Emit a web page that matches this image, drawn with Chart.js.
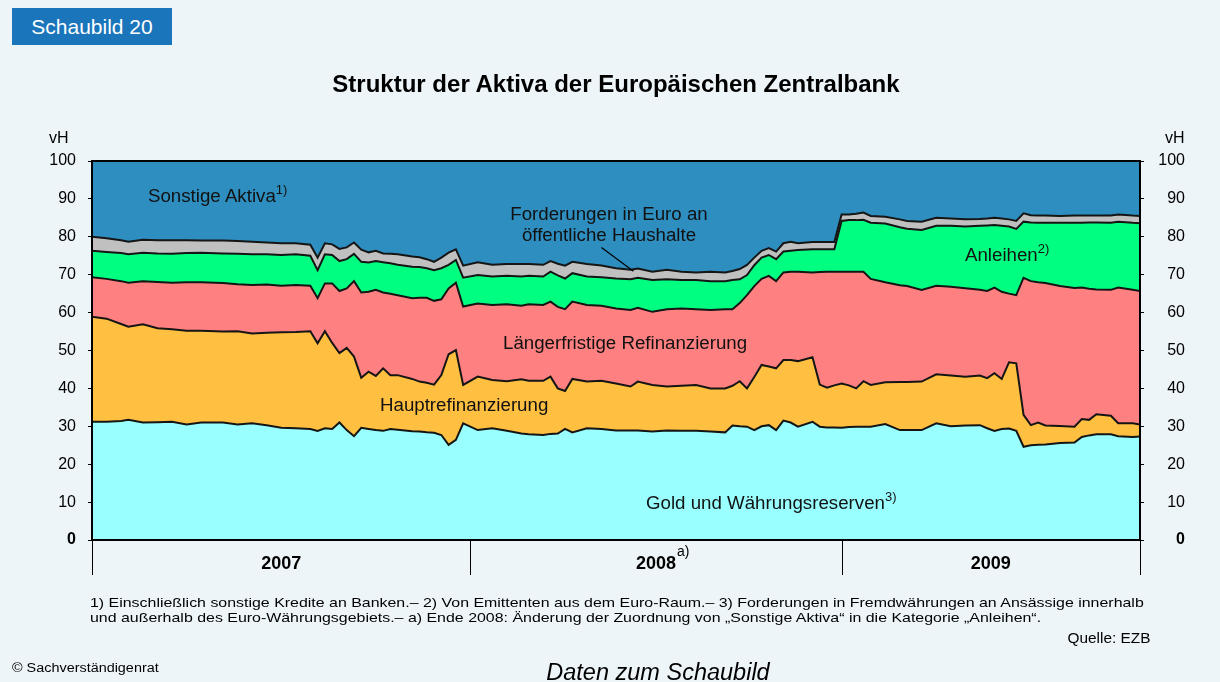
<!DOCTYPE html>
<html>
<head>
<meta charset="utf-8">
<script src="https://cdn.jsdelivr.net/npm/chart.js@4/dist/chart.umd.min.js"></script>
<style>
  html, body { margin: 0; padding: 0; background: #eef5f9; }
  body { width: 1220px; height: 682px; position: relative; overflow: hidden; font-family: "Liberation Sans", Arial, sans-serif; color: #000; }
  #chart { position: absolute; left: 0; top: 0; }
  .t { position: absolute; white-space: nowrap; }
  .lbl { font-size: 18.7px; line-height: 22px; color: #111; }
  sup { font-size: 13px; vertical-align: 0; position: relative; top: -8px; }
  #tag { left: 12px; top: 8px; width: 160px; height: 37px; background: #1a75bb; color: #fff; font-size: 21px; line-height: 37px; text-align: center; }
  #title { left: 0; width: 1232px; top: 71px; text-align: center; font-size: 24px; font-weight: bold; line-height: 26px; }
  .vh { font-size: 16px; top: 129px; }
  .foot { left: 90px; top: 595px; font-size: 13.5px; line-height: 15px; transform: scaleX(1.18); transform-origin: 0 0; }
</style>
</head>
<body>
<canvas id="chart" width="1220" height="682"></canvas>

<div class="t" id="tag">Schaubild 20</div>
<div class="t" id="title">Struktur der Aktiva der Europäischen Zentralbank</div>
<div class="t vh" style="left:49px;">vH</div>
<div class="t vh" style="left:1165px;">vH</div>

<div class="t lbl" style="left:148px; top:185px;">Sonstige Aktiva<sup>1)</sup></div>
<div class="t lbl" style="left:459px; top:203px; width:300px; text-align:center; line-height:21px;">Forderungen in Euro an<br>öffentliche Haushalte</div>
<div class="t lbl" style="left:965px; top:244px;">Anleihen<sup>2)</sup></div>
<div class="t lbl" style="left:503px; top:332px;">Längerfristige Refinanzierung</div>
<div class="t lbl" style="left:380px; top:394px;">Hauptrefinanzierung</div>
<div class="t lbl" style="left:646px; top:492px;">Gold und Währungsreserven<sup>3)</sup></div>
<div class="t" style="left:677px; top:543px; font-size:14px;">a)</div>

<div class="t foot">1) Einschließlich sonstige Kredite an Banken.– 2) Von Emittenten aus dem Euro-Raum.– 3) Forderungen in Fremdwährungen an Ansässige innerhalb<br>und außerhalb des Euro-Währungsgebiets.– a) Ende 2008: Änderung der Zuordnung von „Sonstige Aktiva“ in die Kategorie „Anleihen“.</div>
<div class="t" style="right:70px; top:630px; font-size:14px; transform:scaleX(1.1); transform-origin:100% 0;">Quelle: EZB</div>
<div class="t" style="left:12px; top:661px; font-size:12px; transform:scaleX(1.2); transform-origin:0 0;">© Sachverständigenrat</div>
<div class="t" style="left:0; width:1316px; text-align:center; top:659px; font-size:23.5px; font-style:italic;">Daten zum Schaubild</div>

<script>
// weeks since start of 2007 (weekly ECB balance sheet, sampled)
const weeks = [0,2,4,5,7,9,11,13,15,18,20,22,24,26,28,30,31,32,33,34,35,36,37,38,39,40,41,42,44,45,46,47,48,49,50,51,53,55,57,59,60,62,63,64,65,66,68,70,72,74,75,77,79,81,83,85,87,88,89,90,91,92,93,94,95,96,97,99,100,101,102,103,104,105,106,107,109,111,112,114,116,118,120,122,123,124,125,126,127,128,129,130,131,133,135,136,137,138,140,141,143,144];

// cumulative shares in vH (upper edge of each layer)
const goldTop = [31.2,31.2,31.4,31.7,31.0,31.1,31.2,30.5,31.0,31.0,30.5,30.8,30.3,29.6,29.5,29.3,28.8,29.5,29.3,31.0,29.0,27.4,29.6,29.3,29.0,28.8,29.3,29.1,28.7,28.6,28.4,28.3,27.7,25.1,26.4,30.8,29.0,29.5,28.8,28.1,27.9,27.7,28.0,28.1,29.3,28.4,29.5,29.3,28.9,28.9,28.9,28.6,28.9,28.8,28.8,28.6,28.4,30.2,30.0,29.9,29.0,30.0,30.3,29.0,31.5,31.0,29.9,31.2,29.9,29.7,29.7,29.6,29.8,29.9,29.9,29.9,30.6,29.0,29.0,29.0,30.8,30.0,30.2,30.3,29.5,28.8,29.3,29.4,28.8,24.6,25.0,25.1,25.2,25.6,25.7,27.2,27.6,27.9,27.9,27.4,27.2,27.3];
const hauptTop = [58.9,58.4,57.0,56.3,56.9,55.9,55.6,55.2,55.2,55.0,55.1,54.5,54.7,54.8,54.9,55.1,51.9,55.1,52.0,49.3,50.7,48.4,42.8,44.4,43.3,45.3,43.5,43.5,42.5,41.8,41.5,41.0,43.5,49.0,50.1,40.9,43.1,42.2,41.9,42.4,42.0,42.0,43.1,40.0,39.3,42.5,41.8,42.0,41.3,40.5,41.8,40.9,40.5,40.7,40.9,40.0,40.0,40.7,41.9,40.0,43.0,46.2,45.8,45.3,47.5,47.5,47.2,48.2,41.0,40.2,40.8,41.3,40.8,40.0,41.9,40.9,41.6,41.7,41.7,41.8,43.7,43.4,43.1,43.4,42.7,44.0,42.5,46.9,46.6,33.0,30.3,31.0,30.2,30.1,29.9,31.9,31.7,33.2,32.8,30.8,30.8,30.5];
const laengerTop = [69.3,68.9,68.3,67.9,68.3,68.1,67.9,68.0,68.0,67.8,67.5,67.3,67.4,67.1,67.3,67.1,63.8,67.7,67.7,65.7,66.4,68.3,65.3,65.5,66.0,65.3,65.0,64.6,63.8,63.9,63.9,63.1,63.5,66.4,67.9,61.6,62.4,62.0,62.2,61.8,62.2,62.0,62.9,61.5,60.9,62.9,62.0,61.8,61.1,60.7,61.3,60.2,60.9,61.1,60.9,60.7,60.9,60.9,62.5,64.6,67.0,68.9,69.7,68.3,70.6,70.8,70.8,70.6,70.7,70.8,70.8,70.8,70.8,70.8,70.8,68.9,68.0,67.2,67.0,66.0,67.1,66.8,66.4,66.0,65.7,66.6,65.5,65.0,64.6,69.2,68.3,68.0,67.8,67.0,66.5,66.6,66.3,66.1,66.0,66.6,66.0,65.7];
const anleihenTop = [76.3,76.0,75.7,75.4,75.8,75.6,75.5,75.7,75.8,75.6,75.5,75.4,75.4,75.2,75.4,75.0,71.2,75.4,75.2,73.6,74.1,75.5,73.4,73.2,73.6,73.3,73.0,72.6,72.1,72.0,71.7,71.2,71.7,72.6,73.9,69.2,69.9,69.5,69.7,69.5,69.7,69.5,70.8,69.8,69.0,70.4,69.5,69.3,69.0,68.8,69.2,68.6,68.8,68.6,68.6,68.3,68.3,68.6,68.8,69.9,72.5,74.5,75.2,74.1,76.1,76.3,76.5,76.7,76.7,76.7,76.7,84.2,84.4,84.4,84.5,83.7,83.5,82.5,82.1,81.8,82.9,82.9,82.7,82.9,83.0,83.1,82.9,82.7,82.1,84.0,83.8,83.7,83.7,83.7,83.7,83.7,83.8,83.8,83.7,84.0,83.7,83.6];
const forderTop = [80.0,79.6,79.1,78.7,79.2,79.1,79.1,79.1,79.0,79.0,78.9,78.7,78.5,78.3,78.3,77.9,74.5,78.3,78.0,76.8,77.2,78.5,76.6,75.9,76.3,75.6,75.5,75.4,74.8,74.6,74.1,73.4,74.5,75.8,76.7,72.4,73.3,72.6,72.8,72.8,72.8,72.6,73.6,72.9,72.4,73.4,72.8,72.4,71.7,71.3,71.6,70.8,71.3,70.8,70.6,70.8,70.6,71.0,71.5,72.6,74.5,76.3,77.0,76.1,78.3,78.7,78.3,78.6,78.6,78.6,78.6,85.9,85.9,86.1,86.4,85.5,85.3,84.6,84.2,84.0,85.0,84.8,84.6,84.7,84.8,85.0,84.8,84.6,84.2,86.2,85.7,85.6,85.6,85.5,85.6,85.6,85.6,85.6,85.6,85.9,85.6,85.5];

const seriesNames = ["Gold und Währungsreserven", "Hauptrefinanzierung", "Längerfristige Refinanzierung", "Anleihen", "Forderungen in Euro an öffentliche Haushalte", "Sonstige Aktiva"];
const seriesColors = ["#99ffff", "#ffbf40", "#ff8080", "#00ff80", "#c0c0c0", "#2e8ebf"];

const years = ["2007", "2008", "2009"];
const yearBreaks = [0, 52, 103, 144];
const yearMids = [26, 77.5, 123.5];
const yTicks = [0, 10, 20, 30, 40, 50, 60, 70, 80, 90, 100];

const FONT = "'Liberation Sans', Arial, sans-serif";

function pts(arr) {
    return arr.map((v, i) => ({x: weeks[i], y: v}));
}

const tops = [goldTop, hauptTop, laengerTop, anleihenTop, forderTop, forderTop];
const datasets = tops.map((arr, i) => ({
    label: seriesNames[i],
    data: pts(arr),
    backgroundColor: seriesColors[i],
    borderColor: "#151515",
    borderWidth: i === 5 ? 0 : 2,
    fill: i === 0 ? "origin" : (i === 5 ? "end" : "-1"),
    pointRadius: 0,
    tension: 0
}));

const frame = {
    id: "frame",
    afterDraw(chart) {
        const ctx = chart.ctx;
        const a = chart.chartArea;
        const xs = chart.scales.x;
        const ys = chart.scales.y;
        ctx.save();
        ctx.strokeStyle = "#000";
        ctx.lineWidth = 2;
        ctx.strokeRect(a.left, a.top, a.right - a.left, a.bottom - a.top);
        // year separators below the axis
        ctx.lineWidth = 1;
        yearBreaks.forEach(w => {
            const px = Math.round(xs.getPixelForValue(w)) + 0.5;
            ctx.beginPath();
            ctx.moveTo(px, a.bottom);
            ctx.lineTo(px, a.bottom + 35);
            ctx.stroke();
        });
        // pointer from label to the grey band
        ctx.lineWidth = 1.2;
        ctx.beginPath();
        ctx.moveTo(xs.getPixelForValue(70.0), ys.getPixelForValue(77.2));
        ctx.lineTo(xs.getPixelForValue(74.4), ys.getPixelForValue(70.9));
        ctx.stroke();
        ctx.restore();
    }
};

function yAxis(pos) {
    return {
        position: pos,
        min: 0,
        max: 100,
        afterBuildTicks: s => { s.ticks = yTicks.map(v => ({value: v})); },
        afterFit: s => { s.width = pos === "left" ? 92 : 45; },
        ticks: {
            color: "#000",
            padding: pos === "left" ? 12 : 6,
            crossAlign: pos === "left" ? "near" : "far",
            font: c => ({family: FONT, size: 16, weight: c.tick && c.tick.value === 0 ? "bold" : "normal"})
        },
        grid: {drawOnChartArea: false, tickLength: 4, color: "#000"},
        border: {display: true, color: "#000", width: 2}
    };
}

new Chart(document.getElementById("chart"), {
    type: "line",
    data: {datasets: datasets},
    options: {
        responsive: false,
        animation: false,
        layout: {padding: {top: 161, left: 0, right: 35, bottom: 0}},
        plugins: {
            legend: {display: false},
            tooltip: {enabled: false},
            filler: {drawTime: "beforeDatasetsDraw"}
        },
        scales: {
            x: {
                type: "linear",
                min: 0,
                max: 144,
                afterBuildTicks: s => { s.ticks = yearMids.map(v => ({value: v})); },
                afterFit: s => { s.height = 142; },
                ticks: {
                    autoSkip: false,
                    maxRotation: 0,
                    padding: 13,
                    color: "#000",
                    font: {family: FONT, size: 18, weight: "bold"},
                    callback: (v, i) => years[i]
                },
                grid: {display: false, drawTicks: false},
                border: {display: true, color: "#000", width: 2}
            },
            y: yAxis("left"),
            y2: yAxis("right")
        }
    },
    plugins: [frame]
});
</script>
</body>
</html>
